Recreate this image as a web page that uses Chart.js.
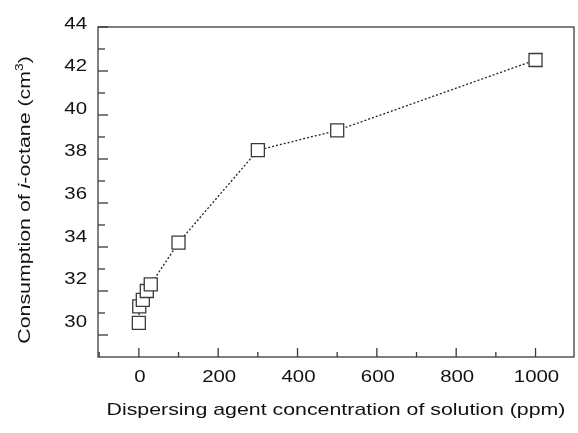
<!DOCTYPE html>
<html>
<head>
<meta charset="utf-8">
<script src="https://cdn.jsdelivr.net/npm/chart.js@4.4.1/dist/chart.umd.min.js"></script>
<style>
html,body{margin:0;padding:0;background:#fff;}
#wrap{width:578px;height:433px;position:relative;}
</style>
</head>
<body>
<div id="wrap"><canvas id="c" width="578" height="433"></canvas></div>
<script>
// Data
const concentrations = [0, 1, 10, 20, 30, 100, 300, 500, 1000];
const consumption = [30.55, 31.3, 31.6, 32.0, 32.3, 34.2, 38.4, 39.3, 42.5];

// Axis settings
const xMin = -103, xMax = 1097, xStep = 100, xLabelEvery = 200;
const yMin = 29, yMax = 44, yStep = 1, yLabelEvery = 2, yFirstTick = 30;

const xTitle = 'Dispersing agent concentration of solution (ppm)';
const yTitleParts = [
  {text: 'Consumption of ', style: 'normal'},
  {text: 'i', style: 'italic'},
  {text: '-octane (cm', style: 'normal'},
  {text: '3', style: 'sup'},
  {text: ')', style: 'normal'}
];

const FONT = '"Liberation Sans", Arial, Helvetica, sans-serif';
const FONT_SIZE = 17;
const TITLE_STRETCH = 1.255;
const TICK_STRETCH = 1.2;
const FRAME = '#3a3a3a';
const TEXT = '#111';

function stretchedText(ctx, text, x, y, sx, align) {
  ctx.save();
  ctx.translate(x, y);
  ctx.scale(sx, 1);
  ctx.textAlign = align;
  ctx.fillText(text, 0, 0);
  ctx.restore();
}

const framePlugin = {
  id: 'frameTicks',
  afterDraw(chart) {
    const ctx = chart.ctx;
    const a = chart.chartArea;
    ctx.save();
    ctx.strokeStyle = FRAME;
    ctx.lineWidth = 1.3;
    ctx.strokeRect(a.left, a.top, a.right - a.left, a.bottom - a.top);
    const xs = chart.scales.x, ys = chart.scales.y;
    // inward ticks
    xs.ticks.forEach(t => {
      const px = xs.getPixelForValue(t.value);
      const len = (t.value % xLabelEvery === 0) ? 9 : 5;
      ctx.beginPath();
      ctx.moveTo(px, a.bottom);
      ctx.lineTo(px, a.bottom - len);
      ctx.stroke();
    });
    ys.ticks.forEach(t => {
      const py = ys.getPixelForValue(t.value);
      const len = (t.value % yLabelEvery === 0) ? 10 : 7;
      ctx.beginPath();
      ctx.moveTo(a.left, py);
      ctx.lineTo(a.left + len, py);
      ctx.stroke();
    });
    // tick labels
    ctx.fillStyle = TEXT;
    ctx.textBaseline = 'alphabetic';
    ctx.font = FONT_SIZE + 'px ' + FONT;
    xs.ticks.forEach(t => {
      if (t.value % xLabelEvery !== 0) return;
      stretchedText(ctx, String(t.value), xs.getPixelForValue(t.value) + 1, a.bottom + 25, TICK_STRETCH, 'center');
    });
    ys.ticks.forEach(t => {
      if (t.value % yLabelEvery !== 0) return;
      const shift = 4.5 + (yMax - t.value) * 0.7;
      stretchedText(ctx, String(t.value), a.left - 11, ys.getPixelForValue(t.value) - shift + 6, TICK_STRETCH, 'right');
    });
    // x title
    stretchedText(ctx, xTitle, (a.left + a.right) / 2, 415, TITLE_STRETCH, 'center');
    // y title (rotated, with italic i and superscript 3)
    const fNormal = FONT_SIZE + 'px ' + FONT;
    const fItalic = 'italic ' + FONT_SIZE + 'px ' + FONT;
    const fSup = Math.round(FONT_SIZE * 0.65) + 'px ' + FONT;
    let total = 0;
    const widths = yTitleParts.map(p => {
      ctx.font = p.style === 'italic' ? fItalic : (p.style === 'sup' ? fSup : fNormal);
      const w = ctx.measureText(p.text).width;
      total += w;
      return w;
    });
    ctx.textAlign = 'left';
    ctx.translate(30, 200);
    ctx.rotate(-Math.PI / 2);
    ctx.scale(TITLE_STRETCH, 1);
    let x = -total / 2;
    yTitleParts.forEach((p, i) => {
      ctx.font = p.style === 'italic' ? fItalic : (p.style === 'sup' ? fSup : fNormal);
      ctx.fillText(p.text, x, p.style === 'sup' ? -7 : 0);
      x += widths[i];
    });
    ctx.restore();
  }
};

function buildTicks(min, max, step, first) {
  const out = [];
  for (let v = first; v <= max + 1e-9; v += step) out.push({value: v});
  return out;
}

new Chart(document.getElementById('c'), {
  type: 'scatter',
  data: {
    datasets: [{
      data: concentrations.map((c, i) => ({x: c, y: consumption[i]})),
      showLine: true,
      borderColor: '#222',
      borderWidth: 1.3,
      borderDash: [2, 2],
      pointStyle: 'rect',
      pointRadius: 9.2,
      pointHoverRadius: 9.2,
      pointBackgroundColor: '#fff',
      pointBorderColor: '#3a3a3a',
      pointBorderWidth: 1.3,
      tension: 0
    }]
  },
  options: {
    responsive: false,
    animation: false,
    events: [],
    layout: {autoPadding: false, padding: {top: 27, right: 4, left: 0, bottom: 0}},
    plugins: {legend: {display: false}, tooltip: {enabled: false}},
    scales: {
      x: {
        type: 'linear',
        min: xMin, max: xMax,
        afterFit(s) { s.height = 76; s.paddingLeft = 0; s.paddingRight = 0; },
        afterBuildTicks(s) { s.ticks = buildTicks(xMin, xMax, xStep, Math.ceil(xMin / xStep) * xStep); },
        grid: {display: false, drawTicks: false},
        border: {display: false},
        ticks: {display: false, autoSkip: false}
      },
      y: {
        type: 'linear',
        min: yMin, max: yMax,
        afterFit(s) { s.width = 98; s.paddingTop = 0; s.paddingBottom = 0; },
        afterBuildTicks(s) { s.ticks = buildTicks(yMin, yMax, yStep, yFirstTick); },
        grid: {display: false, drawTicks: false},
        border: {display: false},
        ticks: {display: false, autoSkip: false}
      }
    }
  },
  plugins: [framePlugin]
});
</script>
</body>
</html>
